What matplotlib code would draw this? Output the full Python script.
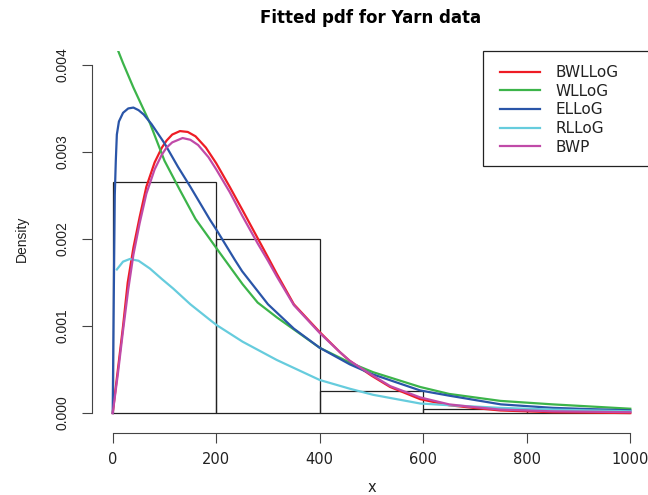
import matplotlib
matplotlib.use("Agg")
import matplotlib.pyplot as plt
from matplotlib.patches import Rectangle

plt.rcParams['font.family'] = ['Liberation Sans', 'DejaVu Sans']
WIDE = ['DejaVu Sans']  # horizontal text in the reference looks stretched

# histogram of the yarn data (density scale)
bin_left = [0, 200, 400, 600, 800]
bin_width = 200
bin_density = [0.00265, 0.0020, 0.00025, 0.00005, 0.00005]

# fitted densities
ellog_x = [0, 2, 4, 6, 8, 12, 20, 30, 40, 50, 60, 75, 100, 126, 150, 188, 200,
           236, 250, 300, 350, 400, 458, 500, 594, 650, 750, 850, 1000]
ellog_y = [0, 0.0013, 0.0025, 0.0029, 0.0032, 0.00335, 0.00345, 0.0035, 0.00351,
           0.00348, 0.00343, 0.00332, 0.0031, 0.00283, 0.0026, 0.00222, 0.00211,
           0.00176, 0.00163, 0.00125, 0.00097, 0.00075, 0.00056, 0.00045, 0.00026,
           0.0002, 0.0001, 0.00006, 0.00003]

wllog_x = [8, 20, 40, 72, 100, 130, 160, 207, 251, 280, 317, 400, 458, 503, 594,
           650, 749, 850, 1000]
wllog_y = [0.0042, 0.00402, 0.00374, 0.00333, 0.0029, 0.00256, 0.00223, 0.00184,
           0.00148, 0.00127, 0.0011, 0.00075, 0.00058, 0.00047, 0.0003, 0.00022,
           0.00014, 0.0001, 0.00005]

bwllog_x = [0, 10, 20, 29, 40, 52, 65, 81, 95, 104, 115, 130, 145, 160, 180, 200,
            226, 250, 280, 300, 317, 350, 400, 439, 458, 500, 536, 594, 650, 696,
            749, 850, 1000]
bwllog_y = [0, 0.0005, 0.001, 0.0015, 0.0019, 0.00225, 0.0026, 0.00288, 0.00305,
            0.00313, 0.0032, 0.00324, 0.00323, 0.00318, 0.00305, 0.00287, 0.0026,
            0.00234, 0.00201, 0.00179, 0.0016, 0.00125, 0.00093, 0.0007, 0.0006,
            0.00043, 0.0003, 0.00016, 0.00009, 0.00006, 0.00003, 0.00001, 0.0]

rllog_x = [8, 20, 33, 50, 72, 95, 117, 150, 188, 201, 251, 317, 400, 458, 503,
           594, 650, 749, 850, 1000]
rllog_y = [0.00165, 0.00174, 0.00177, 0.00175, 0.00166, 0.00154, 0.00143, 0.00125,
           0.00107, 0.00101, 0.00082, 0.00061, 0.00038, 0.00028, 0.00021, 0.00011,
           0.00009, 0.00006, 0.00004, 0.00002]

bwp_x = [0, 10, 20, 30, 40, 52, 65, 81, 95, 104, 115, 135, 150, 165, 185, 200,
         226, 250, 280, 300, 317, 350, 400, 439, 458, 500, 536, 594, 650, 696,
         749, 850, 1000]
bwp_y = [0, 0.00045, 0.00095, 0.00142, 0.00182, 0.00218, 0.00252, 0.0028, 0.00297,
         0.00305, 0.00311, 0.00316, 0.00314, 0.00308, 0.00294, 0.0028, 0.00254,
         0.00227, 0.00195, 0.00175, 0.00157, 0.00124, 0.00092, 0.0007, 0.0006,
         0.00044, 0.00031, 0.00018, 0.0001, 0.00007, 0.00004, 0.00002, 0.00001]

x_ticks = [0, 200, 400, 600, 800, 1000]
y_ticks = [0.0, 0.001, 0.002, 0.003, 0.004]
y_labels = ['0.000', '0.001', '0.002', '0.003', '0.004']

fig = plt.figure(figsize=(6.48, 4.95), dpi=100)
ax = fig.add_axes([92 / 648, 1 - 427 / 495, 559 / 648, 376 / 495])

ax.bar(bin_left, bin_density, width=bin_width, align='edge', fill=False,
       edgecolor='#222222', linewidth=0.9)

ax.plot(bwllog_x, bwllog_y, color='#ee1c25', lw=1.6, label='BWLLoG')
ax.plot(wllog_x, wllog_y, color='#3cb44a', lw=1.6, label='WLLoG')
ax.plot(ellog_x, ellog_y, color='#2a55a8', lw=1.6, label='ELLoG')
ax.plot(rllog_x, rllog_y, color='#66ccdd', lw=1.6, label='RLLoG')
ax.plot(bwp_x, bwp_y, color='#c04aa8', lw=1.6, label='BWP')

ax.set_xlim(-40, 1040)
ax.set_ylim(-0.00016, 0.00416)

for side in ['top', 'right']:
    ax.spines[side].set_visible(False)
ax.spines['left'].set_bounds(0, 0.004)
ax.spines['bottom'].set_bounds(0, 1000)
ax.spines['left'].set_color('#444444')
ax.spines['bottom'].set_color('#444444')
ax.spines['bottom'].set_position(('outward', 4))

ax.set_xticks(x_ticks)
ax.set_xticklabels([str(t) for t in x_ticks], family=WIDE, fontsize=10.5)
ax.set_yticks(y_ticks)
ax.set_yticklabels(y_labels, rotation=90, va='center', fontsize=10)
ax.tick_params(length=7, color='#444444', labelcolor='#222222')
ax.tick_params(axis='x', pad=7)
ax.tick_params(axis='y', pad=9)

ax.set_xlabel('x', fontsize=10.5, color='#222222', va='center', family=WIDE)
ax.set_ylabel('Density', fontsize=10, color='#222222', va='center')
ax.xaxis.set_label_coords(0.5, -0.16)
ax.yaxis.set_label_coords(-0.125, 0.5)

fig.text(371 / 648, 1 - 18 / 495, 'Fitted pdf for Yarn data', ha='center',
         va='center', fontsize=12, fontweight='bold', family=WIDE)

# legend box runs past the right edge, as in the R output
ax.add_patch(Rectangle((483 / 648, 1 - 166 / 495), 0.3, 115 / 495,
                       transform=fig.transFigure, clip_on=False,
                       facecolor='white', edgecolor='#222222',
                       linewidth=0.9, zorder=4))
leg = ax.legend(loc='upper left', bbox_to_anchor=((486 - 92) / 559, 1),
                borderaxespad=0, prop={'family': WIDE, 'size': 11},
                frameon=False, handlelength=2.6, handletextpad=1.0,
                labelspacing=0.24, borderpad=0.92)
leg.set_zorder(6)
for t in leg.get_texts():
    t.set_color('#222222')

fig.savefig('out.png', dpi=100)
